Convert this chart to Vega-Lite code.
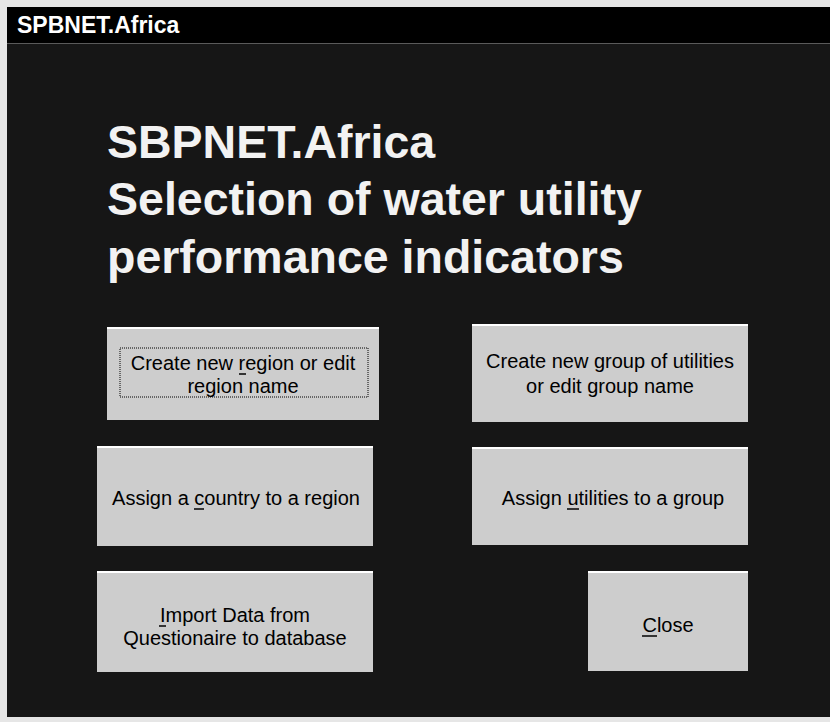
{
  "$schema": "https://vega.github.io/schema/vega-lite/v6.json",
  "width": 830,
  "height": 722,
  "padding": 0,
  "autosize": {"type": "none"},
  "background": "#161616",
  "config": {"view": {"stroke": null}},
  "datasets": {
    "frame": [
      {"kind": "edge", "x0": 0, "x1": 830, "y0": 0, "y1": 7},
      {"kind": "edge", "x0": 0, "x1": 7, "y0": 0, "y1": 722},
      {"kind": "edge", "x0": 0, "x1": 830, "y0": 717, "y1": 722},
      {"kind": "bar", "x0": 7, "x1": 830, "y0": 7, "y1": 43},
      {"kind": "sep", "x0": 7, "x1": 830, "y0": 43, "y1": 44}
    ],
    "buttons": [
      {"id": "region", "x0": 107, "x1": 379, "y0": 328, "y1": 420},
      {"id": "group", "x0": 472, "x1": 748, "y0": 325, "y1": 422},
      {"id": "country", "x0": 97, "x1": 373, "y0": 447, "y1": 546},
      {"id": "utilities", "x0": 472, "x1": 748, "y0": 448, "y1": 545},
      {"id": "import", "x0": 97, "x1": 373, "y0": 572, "y1": 672},
      {"id": "close", "x0": 588, "x1": 748, "y0": 572, "y1": 671}
    ],
    "focus": [
      {"x0": 120, "x1": 368, "y0": 348, "y1": 397}
    ],
    "underlines": [
      {"x0": 239, "x1": 246, "y": 374},
      {"x0": 194, "x1": 204, "y": 509},
      {"x0": 567, "x1": 579, "y": 509},
      {"x0": 159, "x1": 166, "y": 626},
      {"x0": 642, "x1": 657, "y": 636}
    ],
    "labels": [
      {"text": "Create new region or edit", "x": 243, "y": 370},
      {"text": "region name", "x": 243, "y": 393},
      {"text": "Create new group of utilities", "x": 610, "y": 368},
      {"text": "or edit group name", "x": 610, "y": 393},
      {"text": "Assign a country to a region", "x": 236, "y": 505},
      {"text": "Assign utilities to a group", "x": 613, "y": 505},
      {"text": "Import Data from", "x": 235, "y": 622},
      {"text": "Questionaire to database", "x": 235, "y": 645},
      {"text": "Close", "x": 668, "y": 632}
    ],
    "heading": [
      {"text": "SBPNET.Africa", "x": 107, "y": 158},
      {"text": "Selection of water utility", "x": 107, "y": 215},
      {"text": "performance indicators", "x": 107, "y": 273}
    ],
    "caption": [
      {"text": "SPBNET.Africa", "x": 17, "y": 33}
    ]
  },
  "layer": [
    {
      "data": {"name": "frame"},
      "mark": {"type": "rect"},
      "encoding": {
        "x": {"field": "x0", "type": "quantitative", "scale": {"domain": [0, 830], "nice": false, "zero": false}, "axis": null},
        "x2": {"field": "x1"},
        "y": {"field": "y0", "type": "quantitative", "scale": {"domain": [0, 722], "reverse": true, "nice": false, "zero": false}, "axis": null},
        "y2": {"field": "y1"},
        "color": {"field": "kind", "type": "nominal", "scale": {"domain": ["edge", "bar", "sep"], "range": ["#e6e6e6", "#000000", "#5a5a5a"]}, "legend": null}
      }
    },
    {
      "data": {"name": "buttons"},
      "mark": {"type": "rect", "fill": "#cdcdcd"},
      "encoding": {
        "x": {"field": "x0", "type": "quantitative"},
        "x2": {"field": "x1"},
        "y": {"field": "y0", "type": "quantitative"},
        "y2": {"field": "y1"}
      }
    },
    {
      "data": {"name": "buttons"},
      "mark": {"type": "rule", "color": "#ffffff", "strokeWidth": 2},
      "encoding": {
        "x": {"field": "x0", "type": "quantitative"},
        "x2": {"field": "x1"},
        "y": {"field": "y0", "type": "quantitative"}
      }
    },
    {
      "data": {"name": "focus"},
      "mark": {"type": "rect", "fill": null, "stroke": "#000000", "strokeWidth": 1, "strokeDash": [1, 1]},
      "encoding": {
        "x": {"field": "x0", "type": "quantitative"},
        "x2": {"field": "x1"},
        "y": {"field": "y0", "type": "quantitative"},
        "y2": {"field": "y1"}
      }
    },
    {
      "data": {"name": "underlines"},
      "mark": {"type": "rule", "color": "#000000", "strokeWidth": 1.5},
      "encoding": {
        "x": {"field": "x0", "type": "quantitative"},
        "x2": {"field": "x1"},
        "y": {"field": "y", "type": "quantitative"}
      }
    },
    {
      "data": {"name": "labels"},
      "mark": {"type": "text", "font": "Liberation Sans", "fontSize": 20, "color": "#000000", "align": "center", "baseline": "alphabetic"},
      "encoding": {
        "x": {"field": "x", "type": "quantitative"},
        "y": {"field": "y", "type": "quantitative"},
        "text": {"field": "text"}
      }
    },
    {
      "data": {"name": "heading"},
      "mark": {"type": "text", "font": "Liberation Sans", "fontSize": 46.5, "fontWeight": "bold", "color": "#f2f2f2", "align": "left", "baseline": "alphabetic"},
      "encoding": {
        "x": {"field": "x", "type": "quantitative"},
        "y": {"field": "y", "type": "quantitative"},
        "text": {"field": "text"}
      }
    },
    {
      "data": {"name": "caption"},
      "mark": {"type": "text", "font": "Liberation Sans", "fontSize": 23, "fontWeight": "bold", "color": "#ffffff", "align": "left", "baseline": "alphabetic"},
      "encoding": {
        "x": {"field": "x", "type": "quantitative"},
        "y": {"field": "y", "type": "quantitative"},
        "text": {"field": "text"}
      }
    }
  ]
}
